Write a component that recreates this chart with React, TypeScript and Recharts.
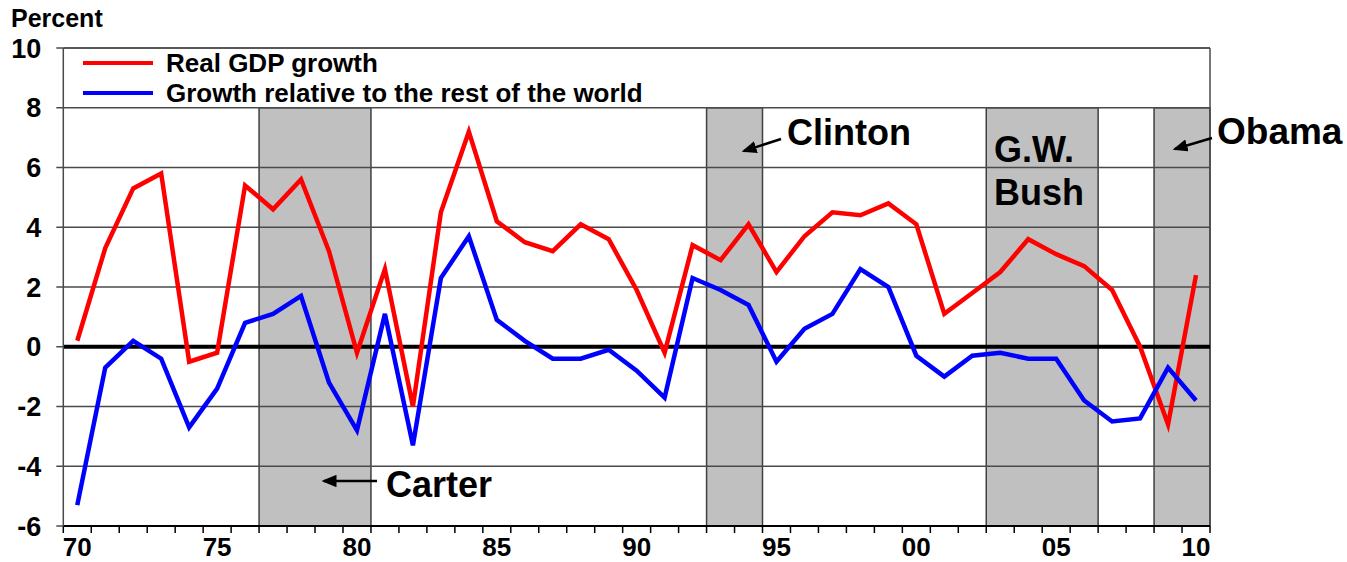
import { LineChart, Line, XAxis, YAxis, ReferenceArea, ReferenceLine } from 'recharts';

// ── Data ────────────────────────────────────────────────────────────
const YEARS = [
  1970, 1971, 1972, 1973, 1974, 1975, 1976, 1977, 1978, 1979,
  1980, 1981, 1982, 1983, 1984, 1985, 1986, 1987, 1988, 1989,
  1990, 1991, 1992, 1993, 1994, 1995, 1996, 1997, 1998, 1999,
  2000, 2001, 2002, 2003, 2004, 2005, 2006, 2007, 2008, 2009, 2010,
];

// Real GDP growth, percent
const GDP_GROWTH = [
  0.2, 3.3, 5.3, 5.8, -0.5, -0.2, 5.4, 4.6, 5.6, 3.2,
  -0.2, 2.6, -2.0, 4.5, 7.2, 4.2, 3.5, 3.2, 4.1, 3.6,
  1.9, -0.2, 3.4, 2.9, 4.1, 2.5, 3.7, 4.5, 4.4, 4.8,
  4.1, 1.1, 1.8, 2.5, 3.6, 3.1, 2.7, 1.9, 0.0, -2.6, 2.4,
];

// Growth relative to the rest of the world, percent
const RELATIVE_GROWTH = [
  -5.3, -0.7, 0.2, -0.4, -2.7, -1.4, 0.8, 1.1, 1.7, -1.2,
  -2.8, 1.1, -3.3, 2.3, 3.7, 0.9, 0.2, -0.4, -0.4, -0.1,
  -0.8, -1.7, 2.3, 1.9, 1.4, -0.5, 0.6, 1.1, 2.6, 2.0,
  -0.3, -1.0, -0.3, -0.2, -0.4, -0.4, -1.8, -2.5, -2.4, -0.7, -1.8,
];

const Y_TICKS = [-6, -4, -2, 0, 2, 4, 6, 8, 10];
const GRID_LINES = [-4, -2, 2, 4, 6, 8];
const LABEL_EVERY = 5;

// presidential terms that get shaded (first and last year)
const TERMS = [
  { name: 'Carter', from: 1977, to: 1980 },
  { name: 'Clinton', from: 1993, to: 1994 },
  { name: 'G.W. Bush', from: 2003, to: 2006 },
  { name: 'Obama', from: 2009, to: 2010 },
];

const data = YEARS.map((year, i) => ({
  year,
  gdp: GDP_GROWTH[i],
  rel: RELATIVE_GROWTH[i],
}));

// tick marks sit between the years
const BOUNDARIES = [...YEARS.map((y) => y - 0.5), YEARS[YEARS.length - 1] + 0.5];

// ── Layout ──────────────────────────────────────────────────────────
const W = 1347;
const H = 562;
const Y_AXIS_W = 63.3;
const MARGIN = { top: 48, right: 137, bottom: 0, left: 0 };
const PLOT_W = W - MARGIN.left - MARGIN.right - Y_AXIS_W;
const HALF_STEP = PLOT_W / YEARS.length / 2;

const FONT = '"Liberation Sans", Arial, Helvetica, sans-serif';
const GRID = '#4a4a4a';

function YearTick({ x, y, payload }: any) {
  const year = payload.value + 0.5;
  if (year % LABEL_EVERY !== 0) return <g />;
  return (
    <text
      x={x + HALF_STEP}
      y={y}
      dy={21}
      textAnchor="middle"
      fontFamily={FONT}
      fontWeight="bold"
      fontSize={26}
      fill="#000"
    >
      {String(year % 100).padStart(2, '0')}
    </text>
  );
}

function Arrow({ x1, y1, x2, y2 }: { x1: number; y1: number; x2: number; y2: number }) {
  return <line x1={x1} y1={y1} x2={x2} y2={y2} stroke="#000" strokeWidth={2.5} markerEnd="url(#arrowHead)" />;
}

const textStyle = { fontFamily: FONT, fontWeight: 'bold' as const, fill: '#000' };

export default function App() {
  return (
    <div style={{ position: 'absolute', left: 0, top: 0, width: W, height: H, background: '#fff' }}>
      <LineChart width={W} height={H} data={data} margin={MARGIN}>
        <XAxis
          dataKey="year"
          type="number"
          domain={[BOUNDARIES[0], BOUNDARIES[BOUNDARIES.length - 1]]}
          ticks={BOUNDARIES}
          interval={0}
          height={36}
          tickSize={7}
          tickMargin={2}
          tickLine={{ stroke: '#000', strokeWidth: 1.5 }}
          axisLine={{ stroke: '#000', strokeWidth: 2 }}
          tick={<YearTick />}
        />
        <YAxis
          type="number"
          domain={[-6, 10]}
          ticks={Y_TICKS}
          interval={0}
          width={Y_AXIS_W}
          tickSize={7}
          tickMargin={15}
          tickLine={{ stroke: GRID, strokeWidth: 1.5 }}
          axisLine={{ stroke: GRID, strokeWidth: 1.5 }}
          tick={{ fontFamily: FONT, fontWeight: 'bold', fontSize: 27, fill: '#000' }}
        />

        {TERMS.map((t) => (
          <ReferenceArea
            key={t.name}
            x1={t.from - 0.5}
            x2={t.to + 0.5}
            y1={-6}
            y2={8}
            fill="#C0C0C0"
            fillOpacity={1}
            stroke="#404040"
            strokeWidth={1.5}
          />
        ))}

        {GRID_LINES.map((v) => (
          <ReferenceLine key={v} y={v} stroke={GRID} strokeWidth={1.6} />
        ))}
        <ReferenceLine y={10} stroke="#202020" strokeWidth={1.5} />
        <ReferenceLine x={BOUNDARIES[BOUNDARIES.length - 1]} stroke={GRID} strokeWidth={1.5} />
        <ReferenceLine y={0} stroke="#000" strokeWidth={4} />

        <Line
          dataKey="gdp"
          name="Real GDP growth"
          type="linear"
          stroke="#FF0000"
          strokeWidth={4.5}
          strokeLinejoin="miter"
          dot={false}
          isAnimationActive={false}
        />
        <Line
          dataKey="rel"
          name="Growth relative to the rest of the world"
          type="linear"
          stroke="#0000FF"
          strokeWidth={4.5}
          strokeLinejoin="miter"
          dot={false}
          isAnimationActive={false}
        />
      </LineChart>

      {/* labels, legend and annotations */}
      <svg
        width={W}
        height={H}
        style={{ position: 'absolute', left: 0, top: 0, pointerEvents: 'none' }}
      >
        <defs>
          <marker id="arrowHead" markerWidth="6" markerHeight="5" refX="5" refY="2.5" orient="auto">
            <polygon points="0 0, 6 2.5, 0 5" fill="#000" />
          </marker>
        </defs>

        <text x={11} y={27} fontSize={25} {...textStyle}>Percent</text>

        <line x1={83} y1={63} x2={153} y2={63} stroke="#FF0000" strokeWidth={4} />
        <text x={166} y={72} fontSize={26} {...textStyle}>Real GDP growth</text>
        <line x1={83} y1={93} x2={153} y2={93} stroke="#0000FF" strokeWidth={4} />
        <text x={166} y={102} fontSize={26} {...textStyle}>Growth relative to the rest of the world</text>

        <text x={386} y={497} fontSize={36} {...textStyle}>Carter</text>
        <Arrow x1={377} y1={481} x2={324} y2={481} />

        <text x={787} y={145} fontSize={36} {...textStyle}>Clinton</text>
        <Arrow x1={781} y1={139} x2={744} y2={151} />

        <text x={994} y={162} fontSize={36} {...textStyle}>G.W.</text>
        <text x={994} y={205} fontSize={36} {...textStyle}>Bush</text>

        <text x={1217} y={144} fontSize={37} {...textStyle}>Obama</text>
        <Arrow x1={1212} y1={138} x2={1175} y2={149} />
      </svg>
    </div>
  );
}
